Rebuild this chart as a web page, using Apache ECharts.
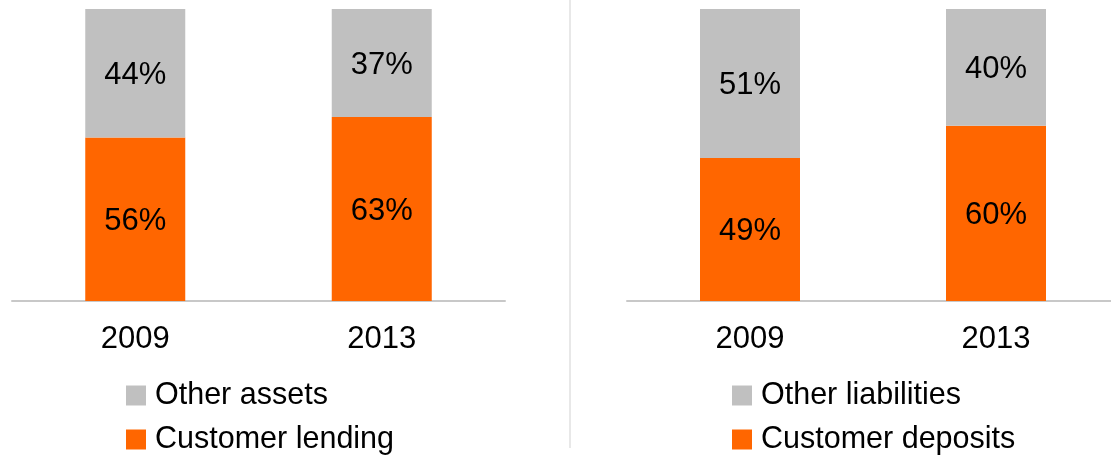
<!DOCTYPE html>
<html>
<head>
<meta charset="utf-8">
<script src="https://cdn.jsdelivr.net/npm/echarts@6/dist/echarts.min.js"></script>
<style>
  html, body { margin: 0; padding: 0; background: #ffffff; overflow: hidden; }
  /* the liabilities axis runs slightly past the right edge of the window */
  #chart { width: 1120px; height: 457px; }
</style>
</head>
<body>
<div id="chart"></div>
<script>
// Balance-sheet composition, share of total (%)
const years = ['2009', '2013'];

const assetNames = ['Customer lending', 'Other assets'];
const customerLending = [56, 63];
const otherAssets = [44, 37];

const liabilityNames = ['Customer deposits', 'Other liabilities'];
const customerDeposits = [49, 60];
const otherLiabilities = [51, 40];

const ORANGE = '#FF6600';
const GREY = '#C0C0C0';
const FONT = '"Liberation Sans", Arial, sans-serif';

const chart = echarts.init(document.getElementById('chart'), null, { renderer: 'canvas' });

const barLabel = {
  show: true,
  position: 'inside',
  offset: [0, 2],
  color: '#000',
  fontFamily: FONT,
  fontSize: 31,
  formatter: p => p.value + '%'
};

function stackSeries(name, data, color, axisIndex, stack) {
  return {
    name: name,
    type: 'bar',
    stack: stack,
    xAxisIndex: axisIndex,
    yAxisIndex: axisIndex,
    barWidth: 100,
    data: data,
    itemStyle: { color: color },
    label: barLabel,
    emphasis: { disabled: true }
  };
}

function catAxis(gridIndex) {
  return {
    type: 'category',
    gridIndex: gridIndex,
    data: years,
    axisLine: { show: true, lineStyle: { color: '#C8C8C8', width: 2 } },
    axisTick: { show: false },
    axisLabel: { color: '#000', fontFamily: FONT, fontSize: 31, margin: 23 }
  };
}

function valAxis(gridIndex) {
  return {
    type: 'value',
    gridIndex: gridIndex,
    min: 0,
    max: 100,
    show: false,
    splitLine: { show: false }
  };
}

// one legend entry per component so the entries stack vertically
function legendItem(left, top, name) {
  return {
    left: left,
    top: top,
    padding: 0,
    itemWidth: 20,
    itemHeight: 20,
    icon: 'rect',
    selectedMode: false,
    data: [name],
    textStyle: {
      color: '#000',
      fontFamily: FONT,
      fontSize: 30.5,
      lineHeight: 20,
      padding: [0, 0, 0, 4]
    }
  };
}

chart.setOption({
  animation: false,
  backgroundColor: '#ffffff',
  grid: [
    { left: 12, top: 9, width: 493, height: 292 },
    { left: 627, top: 9, width: 492, height: 292 }
  ],
  xAxis: [catAxis(0), catAxis(1)],
  yAxis: [valAxis(0), valAxis(1)],
  legend: [
    legendItem(126, 380, assetNames[1]),
    legendItem(126, 424, assetNames[0]),
    legendItem(732, 380, liabilityNames[1]),
    legendItem(732, 424, liabilityNames[0])
  ],
  graphic: [{
    type: 'line',
    shape: { x1: 570, y1: 0, x2: 570, y2: 448 },
    style: { stroke: '#E8E8E8', lineWidth: 2 },
    silent: true
  }],
  series: [
    stackSeries(assetNames[0], customerLending, ORANGE, 0, 'assets'),
    stackSeries(assetNames[1], otherAssets, GREY, 0, 'assets'),
    stackSeries(liabilityNames[0], customerDeposits, ORANGE, 1, 'liabilities'),
    stackSeries(liabilityNames[1], otherLiabilities, GREY, 1, 'liabilities')
  ]
});
</script>
</body>
</html>
